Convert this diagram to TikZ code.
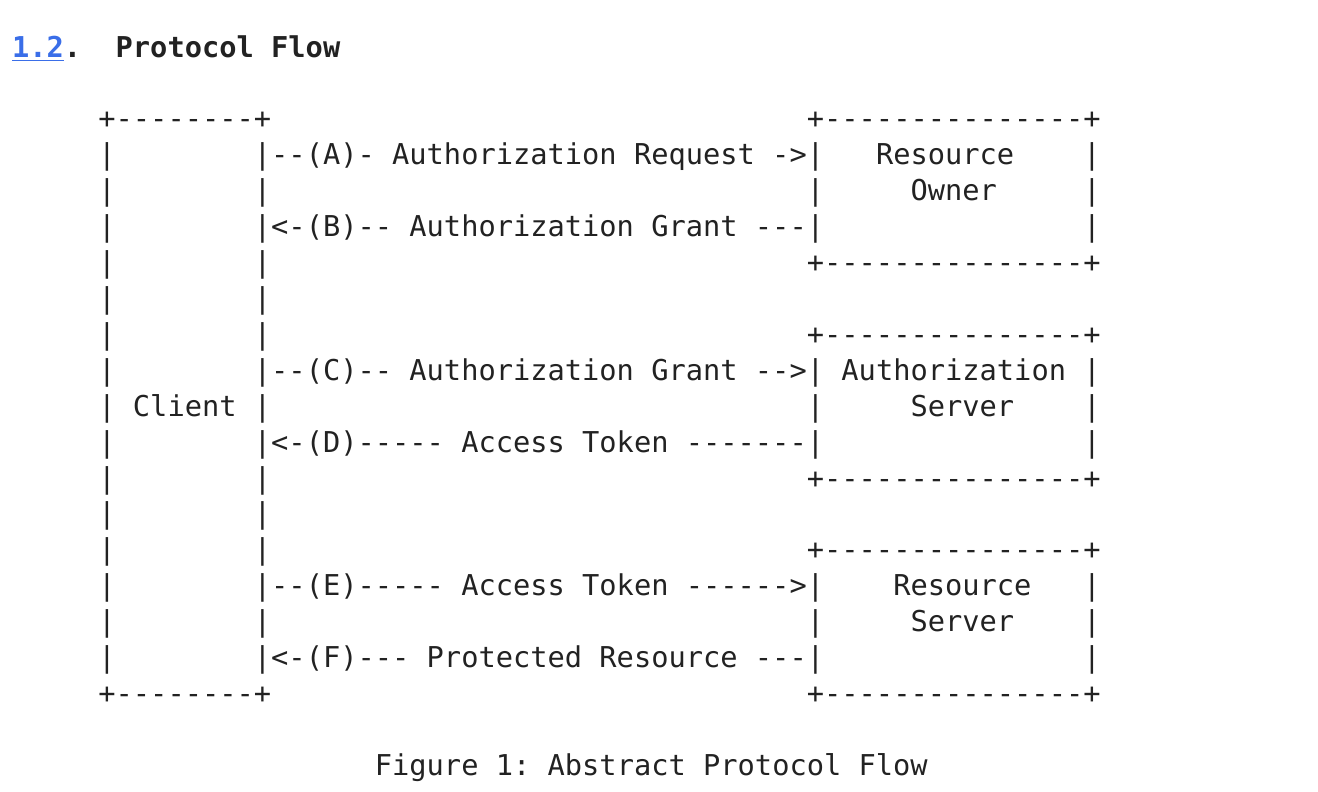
\documentclass[tikz,border=0pt]{standalone}
\usepackage{fontspec}
\setmonofont{DejaVu Sans Mono}
\usepackage{tikz}
\usetikzlibrary{positioning}

\definecolor{inkgrey}{HTML}{222222}
\definecolor{linkblue}{HTML}{3A6EE8}

\tikzset{
  ascii/.style={anchor=base west, inner sep=0pt, outer sep=0pt,
    text=inkgrey, font=\fontsize{14.35}{18}\selectfont\ttfamily\frenchspacing},
  heading/.style={ascii, font=\fontsize{14.35}{18}\selectfont\ttfamily\bfseries}
}

\begin{document}
\begin{tikzpicture}[x=8.64pt, y=-17.95pt]
  \useasboundingbox (-6pt,64.5pt) rectangle (653pt,-331.5pt);

  % heading
  \node[heading] (secnum) at (0,-2) {\textcolor{linkblue}{\underline{1.2}}.};
  \node[heading] (sectitle) at (6,-2) {Protocol Flow};

  % client box
  \node[ascii] (client-top) at (5,0) {+--------+};
  \node[ascii] (client-bot) at (5,16) {+--------+};
  \foreach \r in {1,...,15} {
    \node[ascii] at (5,\r) {|};
    \node[ascii] at (14,\r) {|};
  }
  \node[ascii] (client) at (7,8) {Client};

  % server boxes
  \foreach \y/\name in {0/owner,6/authz,12/rsrv} {
    \node[ascii] (\name-top) at (46,\y) {+---------------+};
    \node[ascii] (\name-bot) at (46,\y+4) {+---------------+};
    \foreach \d in {1,2,3} {
      \node[ascii] at (46,\y+\d) {|};
      \node[ascii] at (62,\y+\d) {|};
    }
  }
  \node[ascii] (owner-1) at (50,1) {Resource};
  \node[ascii] (owner-2) at (52,2) {Owner};
  \node[ascii] (authz-1) at (48,7) {Authorization};
  \node[ascii] (authz-2) at (52,8) {Server};
  \node[ascii] (rsrv-1) at (51,13) {Resource};
  \node[ascii] (rsrv-2) at (52,14) {Server};

  % messages
  \node[ascii] (msg-a) at (15,1) {--(A)- Authorization Request ->};
  \node[ascii] (msg-b) at (15,3) {<-(B)-- Authorization Grant ---};
  \node[ascii] (msg-c) at (15,7) {--(C)-- Authorization Grant -->};
  \node[ascii] (msg-d) at (15,9) {<-(D)----- Access Token -------};
  \node[ascii] (msg-e) at (15,13) {--(E)----- Access Token ------>};
  \node[ascii] (msg-f) at (15,15) {<-(F)--- Protected Resource ---};

  % caption
  \node[ascii] (caption) at (21,18) {Figure 1: Abstract Protocol Flow};
\end{tikzpicture}
\end{document}
